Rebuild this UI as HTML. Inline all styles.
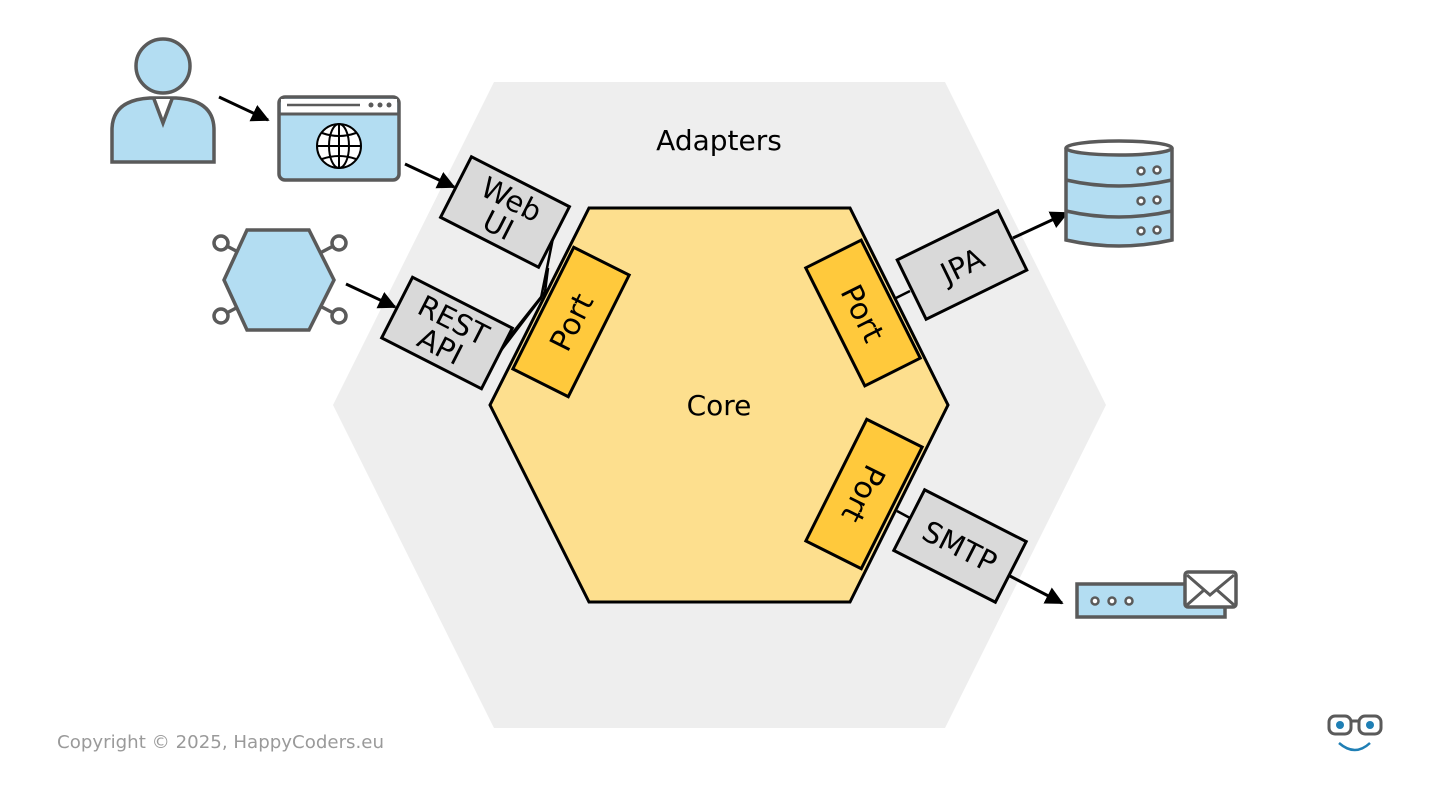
<!DOCTYPE html>
<html><head><meta charset="utf-8"><style>html,body{margin:0;padding:0;background:#fff}svg{display:block}</style></head><body>
<svg width="1440" height="810" viewBox="0 0 1440 810" xmlns="http://www.w3.org/2000/svg" font-family="'DejaVu Sans','Liberation Sans',sans-serif">
<defs><marker id="ar" viewBox="0 0 10 10" refX="9" refY="5" markerWidth="6" markerHeight="6" orient="auto"><path d="M0,0 L10,5 L0,10 z" fill="#000"/></marker></defs>
<polygon points="494,82 945,82 1106,405 945,728 494,728 333,405" fill="#eeeeee"/>
<polygon points="589,208 850,208 948,405 850,602 589,602 490,405" fill="#fddf8e" stroke="#000" stroke-width="3"/>
<text x="719" y="150" font-size="28" text-anchor="middle">Adapters</text>
<text x="719" y="415" font-size="28" text-anchor="middle">Core</text>
<g stroke="#000" stroke-width="2.5" fill="none">
<polyline points="553,238 541,298 496,357"/>
<polyline points="548,268 545,292 499,350"/>
<line x1="896" y1="298" x2="910" y2="291"/>
<line x1="897" y1="511" x2="910" y2="518"/>
</g>
<g transform="translate(571,322) rotate(-63.4)"><rect x="-68" y="-31" width="136" height="62" fill="#ffc93c" stroke="#000" stroke-width="3"/><text x="0" y="11" font-size="30" text-anchor="middle">Port</text></g>
<g transform="translate(863,313) rotate(63.4)"><rect x="-66" y="-31" width="132" height="62" fill="#ffc93c" stroke="#000" stroke-width="3"/><text x="0" y="11" font-size="30" text-anchor="middle">Port</text></g>
<g transform="translate(864,494) rotate(116.6)"><rect x="-68" y="-31" width="136" height="62" fill="#ffc93c" stroke="#000" stroke-width="3"/><text x="0" y="11" font-size="30" text-anchor="middle">Port</text></g>
<g transform="translate(505,212) rotate(27)"><rect x="-55" y="-34" width="110" height="68" fill="#d9d9d9" stroke="#000" stroke-width="3"/><text x="0" y="-4" font-size="29" text-anchor="middle">Web</text><text x="0" y="25" font-size="29" text-anchor="middle">UI</text></g>
<g transform="translate(447,333) rotate(27)"><rect x="-56" y="-34" width="112" height="68" fill="#d9d9d9" stroke="#000" stroke-width="3"/><text x="0" y="-4" font-size="29" text-anchor="middle">REST</text><text x="0" y="25" font-size="29" text-anchor="middle">API</text></g>
<g transform="translate(962,265) rotate(-26)"><rect x="-56" y="-33" width="112" height="66" fill="#d9d9d9" stroke="#000" stroke-width="3"/><text x="0" y="11" font-size="29" text-anchor="middle">JPA</text></g>
<g transform="translate(960,546) rotate(27)"><rect x="-57" y="-34" width="114" height="68" fill="#d9d9d9" stroke="#000" stroke-width="3"/><text x="0" y="11" font-size="29" text-anchor="middle">SMTP</text></g>
<g stroke="#000" stroke-width="3" marker-end="url(#ar)">
<line x1="219" y1="97" x2="268" y2="120"/>
<line x1="405" y1="164" x2="454" y2="187"/>
<line x1="346" y1="284" x2="395" y2="307"/>
<line x1="1013" y1="238" x2="1067" y2="213"/>
<line x1="1008" y1="575" x2="1062" y2="603"/>
</g>
<g stroke="#5a5a5a" stroke-width="3.5" fill="#b3ddf2">
<path d="M112,162 L112,130 Q112,100 150,98 L176,98 Q214,100 214,130 L214,162 Z"/>
<circle cx="163" cy="66" r="27"/>
<path d="M154,99 L163,123 L172,99" fill="#fff"/>
</g>
<rect x="279" y="97" width="120" height="83" rx="6" fill="#b3ddf2" stroke="#5a5a5a" stroke-width="3.5"/>
<rect x="281" y="99" width="116" height="14" fill="#fff"/>
<line x1="279" y1="114" x2="399" y2="114" stroke="#5a5a5a" stroke-width="3"/>
<line x1="287" y1="105" x2="360" y2="105" stroke="#5a5a5a" stroke-width="2.5"/>
<g fill="#5a5a5a"><circle cx="371" cy="105" r="2.5"/><circle cx="380" cy="105" r="2.5"/><circle cx="389" cy="105" r="2.5"/></g>
<g stroke="#000" stroke-width="2" fill="#fff"><circle cx="339" cy="146" r="22"/></g>
<g stroke="#000" stroke-width="2" fill="none"><ellipse cx="339" cy="146" rx="10" ry="22"/><line x1="339" y1="124" x2="339" y2="168"/><line x1="317" y1="146" x2="361" y2="146"/><path d="M322,133 Q339,139 356,133"/><path d="M322,159 Q339,153 356,159"/></g>
<g stroke="#5a5a5a" stroke-width="3.5" fill="#fff">
<line x1="221" y1="243" x2="240" y2="253"/><line x1="339" y1="243" x2="320" y2="253"/><line x1="221" y1="316" x2="240" y2="306"/><line x1="339" y1="316" x2="320" y2="306"/>
<circle cx="221" cy="243" r="7"/><circle cx="339" cy="243" r="7"/><circle cx="221" cy="316" r="7"/><circle cx="339" cy="316" r="7"/>
<polygon points="247,230 309,230 334,280 309,330 247,330 224,280" fill="#b3ddf2"/>
</g>
<g stroke="#5a5a5a" stroke-width="3.5" fill="#b3ddf2">
<path d="M1066,148 L1066,240 Q1119,252 1172,240 L1172,148"/>
<path d="M1066,180 Q1119,192 1172,180" fill="none"/>
<path d="M1066,211 Q1119,223 1172,211" fill="none"/>
<ellipse cx="1119" cy="148" rx="53" ry="7" fill="#fff"/>
</g>
<g stroke="#5a5a5a" stroke-width="2.5" fill="#fff">
<circle cx="1141" cy="171" r="3.5"/><circle cx="1157" cy="170" r="3.5"/>
<circle cx="1141" cy="201" r="3.5"/><circle cx="1157" cy="200" r="3.5"/>
<circle cx="1141" cy="231" r="3.5"/><circle cx="1157" cy="230" r="3.5"/>
</g>
<rect x="1077" y="584" width="148" height="33" fill="#b3ddf2" stroke="#5a5a5a" stroke-width="3.5"/>
<g stroke="#5a5a5a" stroke-width="2.5" fill="#fff"><circle cx="1095" cy="601" r="3.5"/><circle cx="1112" cy="601" r="3.5"/><circle cx="1129" cy="601" r="3.5"/></g>
<rect x="1185" y="572" width="51" height="35" rx="3" fill="#fff" stroke="#5a5a5a" stroke-width="3.5"/>
<path d="M1187,575 L1210,595 L1234,575 M1187,605 L1204,590 M1234,605 L1217,590" stroke="#5a5a5a" stroke-width="3" fill="none"/>
<text x="57" y="748" font-size="18" fill="#9a9a9a" font-family="'DejaVu Sans',sans-serif" textLength="327" lengthAdjust="spacingAndGlyphs">Copyright © 2025, HappyCoders.eu</text>
<g stroke="#5a5a5a" stroke-width="3" fill="#fff">
<rect x="1329" y="716" width="22" height="18" rx="6"/><rect x="1359" y="716" width="22" height="18" rx="6"/>
<line x1="1351" y1="721" x2="1359" y2="721"/></g>
<circle cx="1340" cy="725" r="4" fill="#1f7fb5"/><circle cx="1370" cy="725" r="4" fill="#1f7fb5"/>
<path d="M1339,743 Q1355,757 1370,743" stroke="#1f7fb5" stroke-width="2.5" fill="none"/>
</svg>
</body></html>
